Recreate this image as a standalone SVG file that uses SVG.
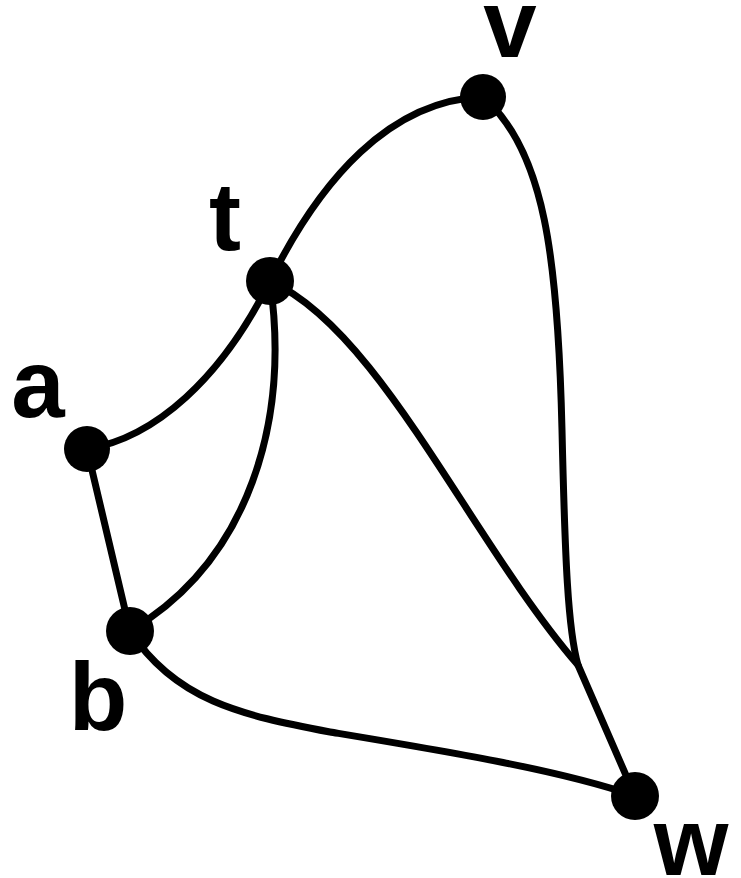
<svg xmlns="http://www.w3.org/2000/svg" width="741" height="878" viewBox="0 0 741 878">
<style>
.e{fill:none;stroke:#000;stroke-width:7;stroke-linecap:round;stroke-linejoin:round}
.n{fill:#000}
.l{font-family:"Liberation Sans",Arial,sans-serif;font-weight:bold;font-size:96px;fill:#000;text-anchor:middle}
</style>
<rect width="741" height="878" fill="#fff"/>
<g id="edges">
<path class="e" d="M270,281 C320,180 390,100 483,97"/>
<path class="e" d="M483,97 C545,150 558,260 562,430 C565,560 568,630 578,665 L635,796"/>
<path class="e" d="M270,281 C380,330 470,540 578,665"/>
<path class="e" d="M87,449 C155,438 222,378 270,281"/>
<path class="e" d="M270,281 C290,420 250,560 130,631"/>
<path class="e" d="M87,449 L130,631"/>
<path class="e" d="M130,631 C175,700 240,715 330,732 C450,752 560,770 635,796"/>
</g>
<g id="v"><circle class="n" cx="483" cy="97" r="23"/><text class="l" x="510" y="57">v</text></g>
<g id="t"><circle class="n" cx="270" cy="281" r="24"/><text class="l" x="225" y="250">t</text></g>
<g id="a"><circle class="n" cx="87" cy="449" r="23"/><text class="l" x="38" y="417">a</text></g>
<g id="b"><circle class="n" cx="130" cy="631" r="24"/><text class="l" x="98" y="730">b</text></g>
<g id="w"><circle class="n" cx="635" cy="796" r="24"/><text class="l" x="691" y="875">w</text></g>
</svg>
